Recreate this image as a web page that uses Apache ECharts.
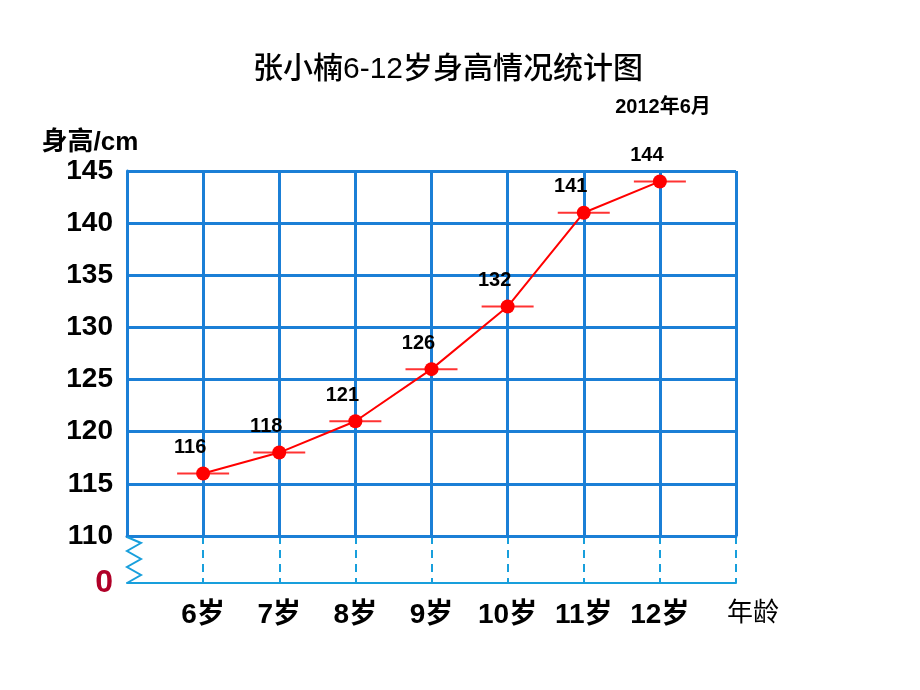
<!DOCTYPE html>
<html>
<head>
<meta charset="utf-8">
<script src="https://cdn.jsdelivr.net/npm/echarts@6/dist/echarts.min.js"></script>
<style>
  html, body { margin: 0; padding: 0; background: #fff; }
  #chart { width: 920px; height: 690px; }
</style>
</head>
<body>
<div id="chart"></div>
<script>
// 张小楠 6-12 岁身高折线图
const ages = ['6岁', '7岁', '8岁', '9岁', '10岁', '11岁', '12岁'];
const heights = [116, 118, 121, 126, 132, 141, 144];
const xCats = ['', ...ages, '年龄'];
const yMin = 110, yMax = 145, yStep = 5;

const FONT = "'Liberation Sans', 'Noto Sans CJK SC', sans-serif";
const GRID_BLUE = '#1b7fd6';
const DASH_BLUE = '#189fdc';
const RED = '#ff0000';

// 网格位置（像素）
const G = { left: 127, right: 184, top: 171, mid: 536, bottom: 583 };

const chart = echarts.init(document.getElementById('chart'));

const pairs = ages.map((a, i) => [a, heights[i]]);

chart.setOption({
  animation: false,
  backgroundColor: '#fff',
  title: [
    { text: '张小楠6-12岁身高情况统计图', left: 443, top: 50, textAlign: 'center',
      textStyle: { fontFamily: FONT, fontSize: 30, fontWeight: 500, color: '#000' } },
    { text: '2012年6月', left: 658, top: 92, textAlign: 'center',
      textStyle: { fontFamily: FONT, fontSize: 20, fontWeight: 'bold', color: '#000' } },
    { text: '身高/cm', left: 85, top: 125, textAlign: 'center',
      textStyle: { fontFamily: FONT, fontSize: 26, fontWeight: 'bold', color: '#000' } },
  ],
  grid: [
    { left: G.left, right: G.right, top: G.top, height: G.mid - G.top, containLabel: false },
    { left: G.left, right: G.right, top: G.mid, height: G.bottom - G.mid, containLabel: false },
  ],
  xAxis: [
    {
      type: 'category', gridIndex: 0, data: xCats, boundaryGap: false,
      axisLine: { lineStyle: { color: GRID_BLUE, width: 3 } },
      axisTick: { show: false }, axisLabel: { show: false },
      splitLine: { show: true, lineStyle: { color: GRID_BLUE, width: 3 } },
    },
    {
      type: 'category', gridIndex: 1, data: xCats, boundaryGap: false,
      axisLine: { lineStyle: { color: DASH_BLUE, width: 2 } },
      axisTick: { show: false },
      axisLabel: {
        interval: 0, margin: 18,
        formatter: v => v === '年龄' ? '{n|年龄}' : '{b|' + v + '}',
        rich: {
          b: { fontFamily: FONT, fontSize: 28, fontWeight: 'bold', color: '#000' },
          n: { fontFamily: FONT, fontSize: 26, fontWeight: 'normal', color: '#000', padding: [0, 0, 0, 34] },
        },
      },
      splitLine: {
        show: true, interval: (idx) => idx > 0,
        lineStyle: { color: DASH_BLUE, width: 2, type: [8, 6] },
      },
    },
  ],
  yAxis: [
    {
      type: 'value', gridIndex: 0, min: yMin, max: yMax, interval: yStep,
      axisLine: { show: true, lineStyle: { color: GRID_BLUE, width: 3 } },
      axisTick: { show: false },
      axisLabel: { margin: 14, fontFamily: FONT, fontSize: 28, fontWeight: 'bold', color: '#000' },
      splitLine: { show: true, lineStyle: { color: GRID_BLUE, width: 3 } },
    },
    {
      type: 'value', gridIndex: 1, min: 0, max: 1, interval: 1,
      axisLine: { show: false }, axisTick: { show: false }, splitLine: { show: false },
      axisLabel: {
        margin: 14, formatter: v => v === 0 ? '0' : '',
        fontFamily: FONT, fontSize: 32, fontWeight: 'bold', color: '#b00028',
      },
    },
  ],
  series: [
    {
      type: 'scatter', xAxisIndex: 0, yAxisIndex: 0, data: pairs,
      symbol: 'rect', symbolSize: [52, 2], itemStyle: { color: RED }, silent: true, z: 2,
    },
    {
      type: 'line', xAxisIndex: 0, yAxisIndex: 0, data: pairs,
      symbol: 'circle', symbolSize: 14, z: 3,
      lineStyle: { color: RED, width: 2 },
      itemStyle: { color: RED },
      label: {
        show: true, position: 'top', distance: 9, offset: [-13, 0],
        fontFamily: FONT, fontSize: 20, fontWeight: 'bold', color: '#000',
      },
    },
  ],
  graphic: [
    {
      type: 'polyline', silent: true, z: 10,
      shape: { points: [
        [G.left, G.mid + 1], [G.left + 14, G.mid + 7], [G.left, G.mid + 15], [G.left + 14, G.mid + 23],
        [G.left, G.mid + 31], [G.left + 14, G.mid + 39], [G.left, G.bottom],
      ] },
      style: { stroke: DASH_BLUE, lineWidth: 2, fill: null },
    },
  ],
});
</script>
</body>
</html>
